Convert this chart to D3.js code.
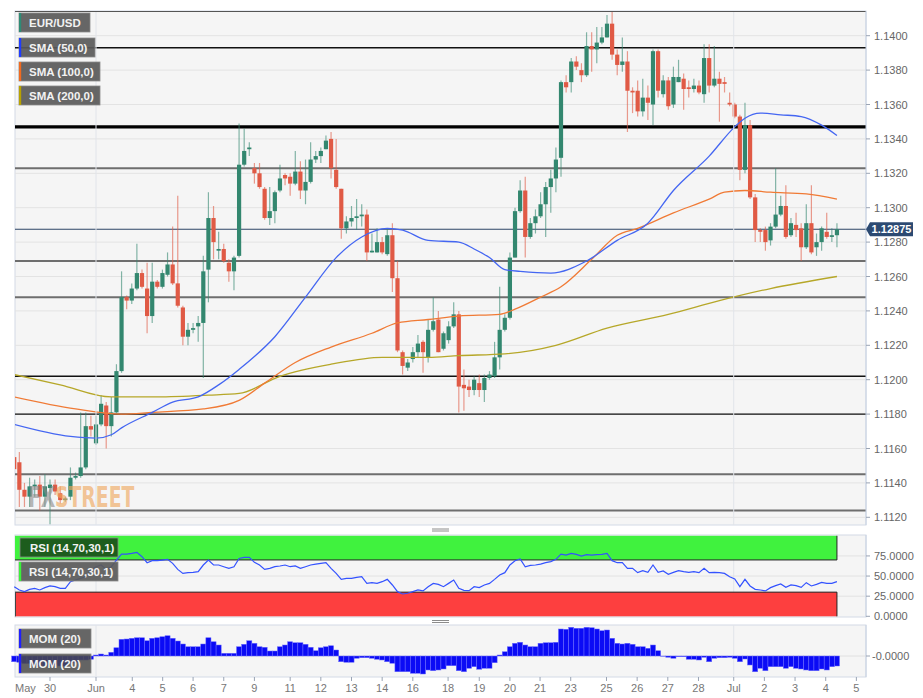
<!DOCTYPE html>
<html><head><meta charset="utf-8">
<script src="https://cdn.jsdelivr.net/npm/d3@7"></script>
<style>body{margin:0;background:#fff;font-family:"Liberation Sans",Arial,sans-serif}</style>
</head><body><svg id="c" width="923" height="698"></svg>
<script>
const opens=[1.1155,1.1152,1.1136,1.1132,1.1138,1.1139,1.1132,1.1137,1.1139,1.1134,
1.1130,1.1132,1.1143,1.1144,1.1149,1.1173,1.1163,1.1174,1.1185,1.1173,
1.1181,1.1205,1.1248,1.1246,1.1253,1.1262,1.1253,1.1237,1.1257,1.1254,
1.1261,1.1267,1.1256,1.1242,1.1225,1.1229,1.1231,1.1233,1.1264,1.1294,
1.1275,1.1276,1.1268,1.1263,1.1272,1.1325,1.1334,1.1323,1.1320,1.1311,
1.1294,1.1298,1.1310,1.1319,1.1318,1.1314,1.1321,1.1310,1.1315,1.1328,
1.1330,1.1334,1.1340,1.1322,1.1311,1.1288,1.1292,1.1294,1.1295,1.1296,
1.1274,1.1274,1.1280,1.1273,1.1284,1.1259,1.1216,1.1207,1.1212,1.1216,
1.1222,1.1213,1.1229,1.1235,1.1218,1.1223,1.1231,1.1238,1.1197,1.1196,
1.1194,1.1198,1.1194,1.1201,1.1202,1.1213,1.1229,1.1236,1.1271,1.1298,
1.1310,1.1283,1.1291,1.1295,1.1302,1.1312,1.1317,1.1329,1.1373,1.1373,
1.1385,1.1380,1.1377,1.1394,1.1392,1.1396,1.1399,1.1407,1.1389,1.1383,
1.1385,1.1368,1.1368,1.1356,1.1364,1.1360,1.1391,1.1366,1.1374,1.1360,
1.1373,1.1375,1.1370,1.1369,1.1371,1.1366,1.1387,1.1371,1.1375,1.1373,
1.1361,1.1360,1.1353,1.1322,1.1348,1.1306,1.1287,1.1287,1.1281,1.1289,
1.1296,1.1301,1.1284,1.1290,1.1288,1.1277,1.1291,1.1277,1.1280,1.1286,
1.1283,1.1284];
const highs=[1.1160,1.1158,1.1140,1.1143,1.1142,1.1144,1.1145,1.1142,1.1142,1.1138,
1.1132,1.1149,1.1146,1.1181,1.1181,1.1179,1.1179,1.1191,1.1187,1.1190,
1.1209,1.1263,1.1249,1.1256,1.1279,1.1264,1.1268,1.1268,1.1258,1.1264,
1.1274,1.1289,1.1307,1.1243,1.1233,1.1233,1.1237,1.1272,1.1309,1.1301,
1.1286,1.1279,1.1270,1.1272,1.1349,1.1346,1.1338,1.1326,1.1326,1.1312,
1.1312,1.1310,1.1325,1.1320,1.1320,1.1333,1.1327,1.1328,1.1338,1.1333,
1.1335,1.1342,1.1344,1.1340,1.1311,1.1295,1.1301,1.1305,1.1302,1.1299,
1.1285,1.1288,1.1283,1.1288,1.1291,1.1269,1.1217,1.1212,1.1219,1.1226,
1.1223,1.1235,1.1248,1.1240,1.1228,1.1234,1.1245,1.1240,1.1206,1.1200,
1.1202,1.1203,1.1203,1.1205,1.1222,1.1254,1.1238,1.1274,1.1300,1.1316,
1.1318,1.1294,1.1299,1.1309,1.1315,1.1322,1.1335,1.1374,1.1377,1.1387,
1.1388,1.1384,1.1402,1.1402,1.1405,1.1405,1.1412,1.1414,1.1392,1.1399,
1.1391,1.1370,1.1374,1.1375,1.1371,1.1392,1.1392,1.1377,1.1376,1.1382,
1.1386,1.1378,1.1374,1.1375,1.1374,1.1395,1.1395,1.1394,1.1379,1.1376,
1.1367,1.1361,1.1354,1.1361,1.1351,1.1308,1.1288,1.1289,1.1291,1.1323,
1.1307,1.1313,1.1294,1.1297,1.1291,1.1302,1.1313,1.1285,1.1289,1.1297,
1.1288,1.1291];
const lows=[1.1146,1.1126,1.1126,1.1126,1.1132,1.1124,1.1126,1.1116,1.1133,1.1128,
1.1129,1.1130,1.1142,1.1143,1.1148,1.1167,1.1162,1.1173,1.1160,1.1167,
1.1180,1.1204,1.1241,1.1244,1.1252,1.1253,1.1227,1.1233,1.1253,1.1253,
1.1260,1.1255,1.1242,1.1220,1.1220,1.1227,1.1222,1.1201,1.1245,1.1270,
1.1270,1.1268,1.1257,1.1252,1.1271,1.1324,1.1330,1.1314,1.1311,1.1293,
1.1290,1.1291,1.1309,1.1313,1.1307,1.1313,1.1305,1.1302,1.1314,1.1326,
1.1326,1.1334,1.1317,1.1311,1.1282,1.1285,1.1289,1.1287,1.1289,1.1269,
1.1274,1.1274,1.1273,1.1272,1.1251,1.1216,1.1203,1.1205,1.1210,1.1213,
1.1204,1.1210,1.1228,1.1216,1.1217,1.1221,1.1230,1.1181,1.1182,1.1190,
1.1191,1.1190,1.1187,1.1200,1.1201,1.1206,1.1228,1.1235,1.1271,1.1297,
1.1271,1.1282,1.1285,1.1294,1.1283,1.1297,1.1309,1.1318,1.1367,1.1367,
1.1380,1.1373,1.1376,1.1379,1.1384,1.1395,1.1399,1.1386,1.1377,1.1379,
1.1344,1.1355,1.1353,1.1353,1.1351,1.1348,1.1364,1.1364,1.1357,1.1358,
1.1373,1.1357,1.1364,1.1367,1.1366,1.1361,1.1367,1.1370,1.1350,1.1367,
1.1359,1.1352,1.1316,1.1320,1.1305,1.1280,1.1280,1.1275,1.1278,1.1288,
1.1295,1.1282,1.1283,1.1283,1.1269,1.1276,1.1273,1.1272,1.1275,1.1282,
1.1280,1.1277];
const closes=[1.1148,1.1136,1.1132,1.1138,1.1139,1.1132,1.1138,1.1139,1.1135,1.1130,
1.1131,1.1143,1.1144,1.1149,1.1173,1.1171,1.1174,1.1186,1.1173,1.1181,
1.1205,1.1248,1.1246,1.1253,1.1262,1.1254,1.1237,1.1257,1.1254,1.1262,
1.1267,1.1256,1.1243,1.1225,1.1229,1.1230,1.1233,1.1263,1.1294,1.1280,
1.1276,1.1269,1.1263,1.1271,1.1325,1.1333,1.1335,1.1320,1.1312,1.1294,
1.1298,1.1309,1.1317,1.1317,1.1314,1.1321,1.1310,1.1315,1.1328,1.1330,
1.1333,1.1339,1.1323,1.1312,1.1288,1.1292,1.1294,1.1295,1.1296,1.1274,
1.1275,1.1280,1.1274,1.1284,1.1259,1.1217,1.1208,1.1210,1.1216,1.1221,
1.1216,1.1229,1.1234,1.1216,1.1227,1.1231,1.1238,1.1196,1.1195,1.1194,
1.1200,1.1194,1.1201,1.1203,1.1213,1.1229,1.1236,1.1271,1.1298,1.1310,
1.1283,1.1291,1.1295,1.1302,1.1312,1.1317,1.1328,1.1373,1.1370,1.1385,
1.1382,1.1377,1.1394,1.1392,1.1396,1.1399,1.1407,1.1389,1.1383,1.1385,
1.1368,1.1367,1.1356,1.1364,1.1361,1.1391,1.1368,1.1374,1.1359,1.1376,
1.1376,1.1369,1.1369,1.1371,1.1367,1.1387,1.1371,1.1375,1.1372,1.1372,
1.1360,1.1353,1.1322,1.1348,1.1306,1.1287,1.1286,1.1280,1.1289,1.1296,
1.1301,1.1283,1.1291,1.1287,1.1277,1.1291,1.1274,1.1280,1.1288,1.1283,
1.1284,1.12875];

const sma50Idx=[0,11,16,19,21,27,31,36,40,44,51,57,63,68,73,76,81,87,90,93,96,99,105,112,118,124,129,136,141,143,146,150,154,158,161];
const sma50=[1.1174,1.1167,1.1166,1.1168,1.1172,1.1181,1.1187,1.1190,1.1197,1.1206,1.1225,1.1248,1.1271,1.1283,1.1288,1.1287,1.1281,1.1280,1.1276,1.1271,1.1264,1.1263,1.1262,1.1269,1.1281,1.1291,1.1310,1.1330,1.1347,1.1352,1.1355,1.1354,1.1353,1.1348,1.1342];
const sma100Idx=[0,12,21,27,37,44,49,55,62,70,75,81,87,95,98,103,107,113,118,122,129,136,139,143,148,155,161];
const sma100=[1.1190,1.1183,1.1180,1.1181,1.1183,1.1188,1.1198,1.1210,1.1219,1.1227,1.1233,1.1235,1.1237,1.1238,1.1241,1.1248,1.1254,1.1270,1.1284,1.1288,1.1297,1.1305,1.1309,1.1310,1.1309,1.1308,1.1305];
const sma200Idx=[0,9,19,28,38,44,52,62,72,81,87,96,106,116,128,138,148,161];
const sma200=[1.1203,1.1197,1.1190,1.1190,1.1191,1.1192,1.1202,1.1209,1.1213,1.1213,1.1214,1.1215,1.1220,1.1230,1.1238,1.1246,1.1253,1.1260];

const rsi=[36.8,32.7,30.6,33.5,34.7,32.7,35.6,37.7,36.8,34.7,
34.7,43.0,45.1,47.1,49.2,57.5,61.6,63.7,58.3,61.6,
69.9,77.3,77.3,78.1,79.4,74.0,66.6,69.1,69.1,69.9,
70.8,65.8,58.3,53.3,54.2,54.6,55.4,63.7,69.9,63.7,
63.7,61.6,59.6,61.6,71.9,73.2,73.2,67.0,63.7,58.3,
59.6,61.6,62.5,63.7,61.6,62.5,59.6,61.6,63.7,64.9,
65.8,66.6,59.6,53.3,45.9,47.1,47.1,48.4,49.2,40.9,
41.8,40.9,43.0,45.9,38.9,30.6,27.7,28.6,30.6,32.7,
31.5,36.8,40.9,39.7,36.8,40.9,45.1,34.7,32.3,31.9,
36.8,35.6,38.9,40.9,45.9,51.3,54.2,63.7,69.1,71.2,
61.6,63.3,63.7,64.9,66.6,67.9,70.8,77.3,76.1,78.1,
76.9,74.8,76.5,76.1,76.5,76.9,78.1,69.1,66.6,66.6,
59.6,59.6,54.2,56.7,54.6,63.7,54.6,56.3,52.1,54.6,
56.7,55.4,54.6,55.4,54.2,59.6,54.2,54.6,54.2,53.3,
49.2,46.3,36.8,45.9,37.7,33.5,32.7,31.5,35.6,38.1,
40.2,36.0,38.9,38.1,36.0,41.8,37.7,39.7,42.2,40.9,
40.9,43.0];
const mom=[-0.0023,-0.0025,-0.0030,-0.0030,-0.0035,-0.0040,-0.0040,-0.0038,-0.0035,-0.0040,
-0.0040,-0.0030,-0.0025,-0.0016,-0.0016,-0.0013,0.0004,0.0008,0.0004,0.0015,
0.0033,0.0067,0.0068,0.0071,0.0073,0.0073,0.0061,0.0071,0.0073,0.0077,
0.0081,0.0071,0.0060,0.0048,0.0037,0.0037,0.0037,0.0048,0.0073,0.0057,
0.0044,0.0011,0.0011,0.0011,0.0037,0.0047,0.0061,0.0051,0.0037,0.0035,
0.0020,0.0020,0.0037,0.0044,0.0057,0.0053,0.0053,0.0047,0.0035,0.0021,
0.0033,0.0037,0.0041,0.0024,-0.0023,-0.0025,-0.0025,-0.0009,-0.0007,-0.0007,
-0.0009,-0.0013,-0.0016,-0.0023,-0.0029,-0.0063,-0.0063,-0.0063,-0.0069,-0.0069,
-0.0072,-0.0056,-0.0059,-0.0056,-0.0052,-0.0039,-0.0039,-0.0059,-0.0063,-0.0049,
-0.0043,-0.0053,-0.0049,-0.0049,-0.0027,0.0004,0.0017,0.0037,0.0051,0.0055,
0.0044,0.0037,0.0037,0.0051,0.0053,0.0053,0.0055,0.0108,0.0107,0.0115,
0.0111,0.0111,0.0115,0.0113,0.0108,0.0101,0.0104,0.0071,0.0051,0.0048,
0.0051,0.0047,0.0037,0.0037,0.0031,0.0044,0.0021,-0.0001,-0.0005,-0.0009,
-0.0003,-0.0003,-0.0013,-0.0013,-0.0016,-0.0005,-0.0023,-0.0009,-0.0007,-0.0007,
-0.0005,-0.0009,-0.0023,-0.0012,-0.0036,-0.0063,-0.0049,-0.0059,-0.0043,-0.0043,
-0.0043,-0.0049,-0.0043,-0.0049,-0.0052,-0.0056,-0.0059,-0.0059,-0.0052,-0.0056,
-0.0043,-0.0040];

const priceTicks=[1.1120,1.1140,1.1160,1.1180,1.1200,1.1220,1.1240,1.1260,1.1280,1.1300,1.1320,1.1340,1.1360,1.1380,1.1400];
const levelsThin=[1.1393,1.1202,1.1180];
const levelsThick=[1.1347];
const levelsGray=[1.1323,1.1269,1.1248,1.1145,1.1124];
const rsiTicks=[0,25,50,75];
const dateLabels=["May","30","Jun","4","5","6","7","9","11","12","13","14","16","18","19","20","21","23","25","26","27","28","Jul","2","3","4","5"];
const dateIdx=[0,7,16,23.1,29.05,35,41,47,54,60,66,72,78,84.9,91,97,102.9,108.9,115.9,121.9,127.9,133.9,140.8,146.8,152.8,158.8,164.8];
const monthIdx=[16,140.8];

const svg=d3.select('#c');
const L=15,R=866,T=11,B=525;
const x=d3.scaleLinear().domain([0,161]).range([14.24,836.95]);
const y=d3.scaleLinear().domain([1.1120,1.1400]).range([517.3,35.7]);
const RT=535,RB=617, MT=625,MB=677;
const yr=d3.scaleLinear().domain([0,100]).range([616.3,535.8]);
const ym=d3.scaleLinear().domain([-0.008,0.0124]).range([676,625]);
const GREEN="#33876f", RED="#e05a45";

const defs=svg.append('defs');
defs.append('clipPath').attr('id','cm').append('rect').attr('x',L).attr('y',T).attr('width',R-L).attr('height',B-T);

function panel(t,b){
  svg.append('rect').attr('x',L).attr('y',t).attr('width',R-L).attr('height',b-t)
    .attr('fill','#f5f5f5').attr('stroke','#d3dae6').attr('stroke-width',1);
}
panel(T,B); panel(RT,RB); panel(MT,MB);

const gm=svg.append('g').attr('clip-path','url(#cm)');
gm.selectAll('.hg').data(priceTicks).join('line').attr('x1',L).attr('x2',R)
  .attr('y1',d=>y(d)).attr('y2',d=>y(d)).attr('stroke','#e3e3e3');
[[T,B],[RT,RB],[MT,MB]].forEach(([t,b])=>{
  svg.selectAll(null).data(monthIdx).join('line').attr('x1',d=>x(d)).attr('x2',d=>x(d))
   .attr('y1',t).attr('y2',b).attr('stroke','#e1e4ea');
});
svg.append('line').attr('x1',L).attr('x2',R).attr('y1',T+0.5).attr('y2',T+0.5).attr('stroke','#555').attr('stroke-width',1.2);

gm.selectAll('.lg').data(levelsGray).join('line').attr('x1',L).attr('x2',R)
  .attr('y1',d=>y(d)).attr('y2',d=>y(d)).attr('stroke','#6e6e6e').attr('stroke-width',2);
gm.selectAll('.lt').data(levelsThin).join('line').attr('x1',L).attr('x2',R)
  .attr('y1',d=>y(d)).attr('y2',d=>y(d)).attr('stroke','#111').attr('stroke-width',1.3);
gm.selectAll('.lk').data(levelsThick).join('line').attr('x1',L).attr('x2',R)
  .attr('y1',d=>y(d)).attr('y2',d=>y(d)).attr('stroke','#000').attr('stroke-width',3.2);
const last=closes[closes.length-1];
gm.append('line').attr('x1',L).attr('x2',R).attr('y1',y(last)).attr('y2',y(last)).attr('stroke','#2c4466').attr('stroke-width',1.1);

const idx=d3.range(opens.length);
gm.selectAll('.wk').data(idx).join('line')
  .attr('x1',i=>x(i)).attr('x2',i=>x(i)).attr('y1',i=>y(highs[i])).attr('y2',i=>y(lows[i]))
  .attr('stroke',i=>closes[i]>=opens[i]?GREEN:RED).attr('stroke-opacity',0.6).attr('stroke-width',1.2);
gm.selectAll('.bd').data(idx).join('rect')
  .attr('x',i=>x(i)-2.1).attr('width',4.2)
  .attr('y',i=>y(Math.max(opens[i],closes[i])))
  .attr('height',i=>Math.max(1.2,Math.abs(y(opens[i])-y(closes[i]))))
  .attr('fill',i=>closes[i]>=opens[i]?GREEN:RED);

function smaLine(ix,vals,col){
  const ln=d3.line().x(d=>x(d[0])).y(d=>y(d[1])).curve(d3.curveMonotoneX);
  gm.append('path').attr('d',ln(ix.map((d,k)=>[d,vals[k]]))).attr('fill','none')
    .attr('stroke',col).attr('stroke-width',1.3);
}
smaLine(sma200Idx,sma200,'#b6a728');
smaLine(sma100Idx,sma100,'#f07a35');
smaLine(sma50Idx,sma50,'#4466f2');

// watermark (small font stretched vertically)
const wmFont='"Liberation Sans Narrow","DejaVu Sans Condensed",sans-serif';
svg.append('text').attr('transform','translate(28,507) scale(1.1,1.5)').attr('font-family',wmFont).attr('font-weight','bold')
  .attr('font-size',19).attr('fill','#8a8a8a').attr('fill-opacity',0.6).text('FX');
svg.append('text').attr('transform','translate(55,507) scale(1.1,1.5)').attr('font-family',wmFont).attr('font-weight','bold')
  .attr('font-size',19).attr('fill','#f0a85e').attr('fill-opacity',0.65).text('STREET');

svg.append('line').attr('x1',R).attr('x2',R).attr('y1',T).attr('y2',B).attr('stroke','#c8d2e2');
svg.selectAll('.yt').data(priceTicks).join('line').attr('x1',R).attr('x2',R+4)
  .attr('y1',d=>y(d)).attr('y2',d=>y(d)).attr('stroke','#9aa4b4');
svg.selectAll('.yl').data(priceTicks).join('text').attr('x',R+8).attr('y',d=>y(d)+4)
  .attr('font-size',11).attr('fill','#666').text(d=>d.toFixed(4));
const ty=y(last);
svg.append('path').attr('d',`M${R},${ty} L${R+4},${ty-7} L${R+47},${ty-7} L${R+47},${ty+7} L${R+4},${ty+7} Z`)
  .attr('fill','#2c4a72');
svg.append('text').attr('x',R+25.5).attr('y',ty+4).attr('text-anchor','middle').attr('font-size',11)
  .attr('font-weight','bold').attr('fill','#fff').text(last.toFixed(5));

// RSI panel
svg.selectAll('.rg').data(rsiTicks.slice(1)).join('line').attr('x1',L).attr('x2',R)
  .attr('y1',d=>yr(d)).attr('y2',d=>yr(d)).attr('stroke','#e2e2e2');
const bx0=L, bx1=x(161);
svg.append('rect').attr('x',bx0).attr('y',yr(100)).attr('width',bx1-bx0).attr('height',yr(70)-yr(100)).attr('fill','#40f23e');
svg.append('rect').attr('x',bx0).attr('y',yr(30)).attr('width',bx1-bx0).attr('height',yr(0)-yr(30)).attr('fill','#fd3f3f');
svg.append('line').attr('x1',bx0).attr('x2',bx1).attr('y1',yr(70)).attr('y2',yr(70)).attr('stroke','#222');
svg.append('line').attr('x1',bx0).attr('x2',bx1).attr('y1',yr(30)).attr('y2',yr(30)).attr('stroke','#222');
svg.append('line').attr('x1',bx1).attr('x2',bx1).attr('y1',yr(100)).attr('y2',yr(70)).attr('stroke','#222');
svg.append('line').attr('x1',bx1).attr('x2',bx1).attr('y1',yr(30)).attr('y2',yr(0)).attr('stroke','#222');
svg.append('line').attr('x1',L+0.5).attr('x2',L+0.5).attr('y1',yr(30)).attr('y2',yr(0)).attr('stroke','#444');
const rl=d3.line().x((d,i)=>x(i)).y(d=>yr(d));
svg.append('path').attr('d',rl(rsi)).attr('fill','none').attr('stroke','#3352ff').attr('stroke-width',1.2);
svg.append('line').attr('x1',R).attr('x2',R).attr('y1',RT).attr('y2',RB).attr('stroke','#c8d2e2');
svg.selectAll('.rt').data(rsiTicks).join('line').attr('x1',R).attr('x2',R+4)
  .attr('y1',d=>yr(d)).attr('y2',d=>yr(d)).attr('stroke','#9aa4b4');
svg.selectAll('.rtl').data(rsiTicks).join('text').attr('x',R+8).attr('y',d=>yr(d)+4)
  .attr('font-size',11).attr('fill','#666').text(d=>d.toFixed(4));

// MOM panel
svg.append('line').attr('x1',L).attr('x2',R).attr('y1',ym(0)).attr('y2',ym(0)).attr('stroke','#e0e0e0');
const bw=x(1)-x(0);
svg.selectAll('.mb').data(idx).join('rect')
  .attr('x',i=>x(i)-bw/2).attr('width',bw)
  .attr('y',i=>Math.min(ym(0),ym(mom[i]))).attr('height',i=>Math.abs(ym(mom[i])-ym(0)))
  .attr('fill','#0b0bf5').attr('stroke','#6d6dff').attr('stroke-width',0.5);
svg.append('line').attr('x1',R).attr('x2',R).attr('y1',MT).attr('y2',MB).attr('stroke','#c8d2e2');
svg.append('line').attr('x1',R).attr('x2',R+4).attr('y1',ym(0)).attr('y2',ym(0)).attr('stroke','#9aa4b4');
svg.append('text').attr('x',R+6).attr('y',ym(0)+4).attr('font-size',11).attr('fill','#666').text('-0.0000');

[[530],[621.5]].forEach(([sy])=>{
  [sy-1,sy+1].forEach(v=>svg.append('line').attr('x1',432).attr('x2',449).attr('y1',v).attr('y2',v).attr('stroke','#8c8c8c'));
});

svg.selectAll('.xt').data(dateIdx.slice(1)).join('line').attr('x1',d=>x(d)).attr('x2',d=>x(d))
  .attr('y1',MB).attr('y2',MB+4).attr('stroke','#9aa4b4');
svg.selectAll('.xl').data(dateLabels).join('text')
  .attr('x',(d,i)=>i===0?L:x(dateIdx[i])).attr('y',692)
  .attr('text-anchor',(d,i)=>i===0?'start':'middle')
  .attr('font-size',11).attr('fill','#777').text(d=>d);

function legend(lx,ly,w,txt,accent,fill,op){
  const g=svg.append('g');
  g.append('rect').attr('x',lx).attr('y',ly).attr('width',w).attr('height',19)
    .attr('fill',fill).attr('fill-opacity',op).attr('stroke','#8a8a8a').attr('stroke-width',0.8);
  if(accent) g.append('rect').attr('x',lx).attr('y',ly).attr('width',2.2).attr('height',19).attr('fill',accent);
  g.append('text').attr('x',lx+10).attr('y',ly+13.5).attr('font-size',11.5).attr('font-weight','bold')
    .attr('fill','#f2f2f2').text(txt);
}
legend(19,13,71,'EUR/USD','#2e8b76','#5a5a5a',0.93);
legend(19,38,76,'SMA (50,0)','#1f3cff','#5a5a5a',0.93);
legend(19,62,81,'SMA (100,0)','#f06a20','#5a5a5a',0.93);
legend(19,86,81,'SMA (200,0)','#b8a200','#5a5a5a',0.93);
legend(20,538,98,'RSI (14,70,30,1)',null,'#1a4d1a',0.9);
legend(19,562,99,'RSI (14,70,30,1)','#3af23a','#5a5a5a',0.93);
legend(19,629,72,'MOM (20)','#1f1fff','#5a5a5a',0.93);
legend(19,654,72,'MOM (20)','#1f1fff','#4a4a4a',0.85);
</script></body></html>
